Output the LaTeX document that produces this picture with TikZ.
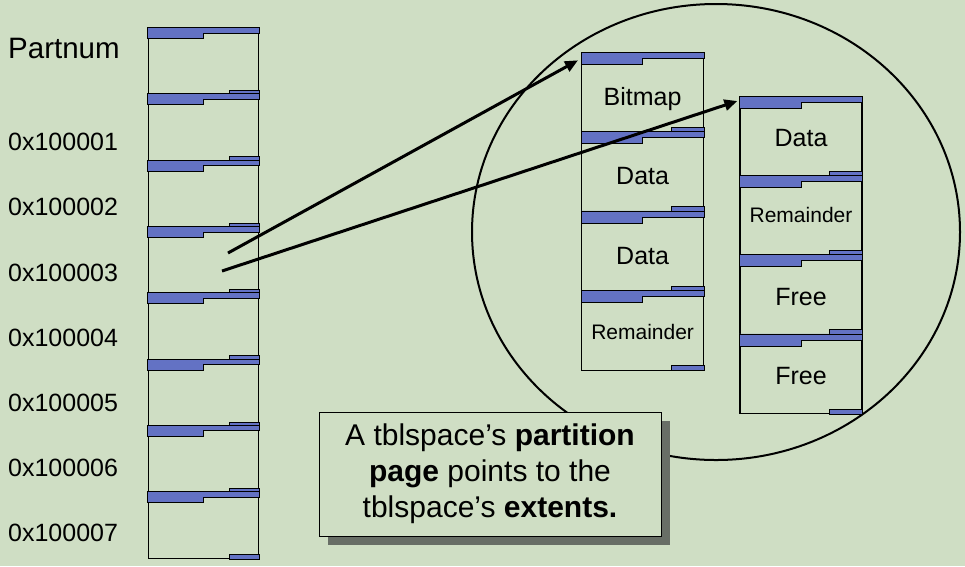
\documentclass[tikz,border=0pt]{standalone}
\usepackage{fontspec}
\setmainfont{Liberation Sans}
\usetikzlibrary{arrows.meta,shadows}
\definecolor{slidegreen}{RGB}{207,222,196}
\definecolor{pageblue}{RGB}{99,114,196}
\definecolor{shadowgray}{RGB}{104,110,102}
\tikzset{
  pagebox/.style={draw, line width=1.2pt, rectangle, anchor=north, inner sep=0pt},
  lpage/.style={pagebox, minimum width=110pt, minimum height=66.3pt},
  xpage/.style={pagebox, minimum width=122pt, minimum height=79.3pt,
    font=\fontsize{25}{30}\selectfont, text height=26pt, text depth=0pt},
  smalltext/.style={font=\fontsize{21}{25}\selectfont, text height=19pt, text depth=0pt},
  rpage/.style={xpage, text height=21pt},
  rsmall/.style={smalltext, text height=14pt},
  band/.style={fill=pageblue, draw=black, line width=0.8pt},
  addr/.style={anchor=west, inner sep=0pt, font=\fontsize{25}{30}\selectfont},
  pointer/.style={line width=3pt, -{Triangle[length=13pt,width=11pt]}},
  note/.style={draw, fill=slidegreen, line width=1pt, minimum width=342pt,
    minimum height=124pt, align=center, font=\fontsize{30}{36}\selectfont,
    drop shadow={shadow xshift=9pt, shadow yshift=-9pt, fill=shadowgray, opacity=1}}
}
\begin{document}
\begin{tikzpicture}[x=1pt,y=-1pt]
  \fill[slidegreen] (0,0) rectangle (965,566);
  \useasboundingbox (0,0) rectangle (965,566);
  \draw[line width=2pt] (716,232) ellipse [x radius=244pt, y radius=228pt];

  \node[addr, font=\fontsize{29.5}{34}\selectfont] (partnum) at (8,48) {Partnum};
  \foreach \i in {1,...,7}
    \node[addr] (a\i) at (8,142+65.2*\i-65.2) {0x10000\i};

  \foreach \i in {0,...,7} {
    \node[lpage] (l\i) at (203.3,27.5+66.3*\i) {};
    \filldraw[band] (l\i.north west) -- (l\i.north east) -- ++(0,5.5)
      -| ([yshift=-11pt]l\i.north) -| (l\i.north west) -- cycle;
    \filldraw[band] ([xshift=-30pt]l\i.south east) rectangle ([yshift=4.5pt]l\i.south east);
  }

  \node[xpage] (m1) at (642.6,52.3) {Bitmap};
  \node[xpage] (m2) at (642.6,131.6) {Data};
  \node[xpage] (m3) at (642.6,210.9) {Data};
  \node[xpage, smalltext] (m4) at (642.6,290.2) {Remainder};

  \node[rpage] (r1) at (801,96) {Data};
  \node[rpage, rsmall] (r2) at (801,175.3) {Remainder};
  \node[rpage] (r3) at (801,254.6) {Free};
  \node[rpage] (r4) at (801,333.9) {Free};

  \foreach \p in {m1,m2,m3,m4,r1,r2,r3,r4} {
    \filldraw[band] (\p.north west) -- (\p.north east) -- ++(0,6)
      -| ([yshift=-12pt]\p.north) -| (\p.north west) -- cycle;
    \filldraw[band] ([xshift=-33pt]\p.south east) rectangle ([yshift=5.5pt]\p.south east);
  }

  \node[note] (note) at (490,474)
    {A tblspace’s \textbf{partition}\\ \textbf{page} points to the\\ tblspace’s \textbf{extents.}};

  \coordinate (s1) at (228,253);
  \coordinate (s2) at (222,271);
  \draw[pointer] (s1) -- ([xshift=-3pt,yshift=-8pt]m1.north west);
  \draw[pointer] (s2) -- ([xshift=-2pt,yshift=-5pt]r1.north west);
\end{tikzpicture}
\end{document}
